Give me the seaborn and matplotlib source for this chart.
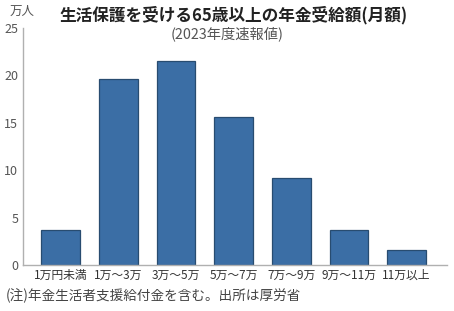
import matplotlib
matplotlib.use("Agg")
import matplotlib.pyplot as plt
import seaborn as sns
import pandas as pd

categories = ["1万円未満", "1万～3万", "3万～5万", "5万～7万", "7万～9万", "9万～11万", "11万以上"]
values = [3.7, 19.6, 21.5, 15.6, 9.2, 3.7, 1.6]
yticks = [0, 5, 10, 15, 20, 25]

sns.set_style("white")
plt.rcParams['font.family'] = ['Noto Sans CJK JP', 'DejaVu Sans']

df = pd.DataFrame({"cat": categories, "val": values})

fig = plt.figure(figsize=(4.54, 3.11), dpi=100)
ax = fig.add_axes([0.0507, 0.148, 0.934, 0.762])
sns.barplot(data=df, x="cat", y="val", ax=ax, color="#3b6ea5", saturation=1,
            width=0.67, edgecolor="#284c70", linewidth=0.9)

ax.set_xlim(-0.65, 6.7)
ax.set_ylim(0, 25)
ax.set_yticks(yticks)
ax.set_xlabel("")
ax.set_ylabel("")
for s in ["top", "right"]:
    ax.spines[s].set_visible(False)
for s in ["left", "bottom"]:
    ax.spines[s].set_color("#b0b0b0")
    ax.spines[s].set_linewidth(1.0)
ax.tick_params(axis="y", length=2, width=0.6, color="#b0b0b0", pad=1.5,
               labelsize=9, labelcolor="#555555")
ax.tick_params(axis="x", length=0, pad=3, labelsize=8.5, labelcolor="#333333")

fig.text(0.515, 0.952, "生活保護を受ける65歳以上の年金受給額(月額)", ha="center", va="center",
         fontsize=12, fontweight="bold", color="#222222")
fig.text(0.5, 0.893, "(2023年度速報値)", ha="center", va="center",
         fontsize=10.3, color="#555555")
fig.text(0.022, 0.962, "万人", ha="left", va="center", fontsize=9, color="#555555")
fig.text(0.012, 0.048, "(注)年金生活者支援給付金を含む。出所は厚労省", ha="left", va="center",
         fontsize=9.8, color="#444444")

fig.savefig("out.png", dpi=100)
